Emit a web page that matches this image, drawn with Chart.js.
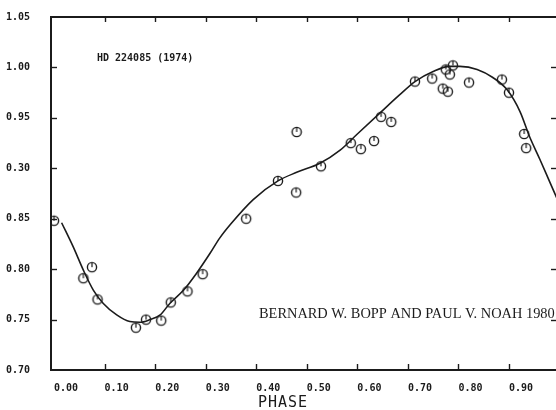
<!DOCTYPE html>
<html>
<head>
<meta charset="utf-8">
<title>HD 224085 light curve</title>
<script src="https://cdn.jsdelivr.net/npm/chart.js@4.4.1/dist/chart.umd.min.js"></script>
<style>
  html, body { margin: 0; padding: 0; background: #fff; }
  #wrap { width: 556px; height: 410px; }
</style>
</head>
<body>
<div id="wrap"><canvas id="lc" width="556" height="410"></canvas></div>
<script>
// observed points (phase, relative flux)
const obsPhase = [0.000, 0.058, 0.075, 0.086, 0.162, 0.182, 0.212, 0.231, 0.264, 0.294,
                  0.380, 0.443, 0.480, 0.479, 0.528, 0.587, 0.607, 0.633, 0.647, 0.667,
                  0.714, 0.748, 0.769, 0.779, 0.775, 0.789, 0.783, 0.821, 0.886, 0.900,
                  0.930, 0.934];
const obsFlux  = [0.848, 0.791, 0.802, 0.770, 0.742, 0.750, 0.749, 0.767, 0.778, 0.795,
                  0.850, 0.8875, 0.936, 0.876, 0.902, 0.925, 0.919, 0.927, 0.951, 0.946,
                  0.986, 0.989, 0.979, 0.976, 0.998, 1.002, 0.993, 0.985, 0.988, 0.975,
                  0.934, 0.920];

// hand-drawn fit through the points
const fitPhase = [0.015, 0.038, 0.058, 0.078, 0.0975, 0.124, 0.150, 0.170, 0.190, 0.210,
                  0.229, 0.256, 0.282, 0.309, 0.328, 0.350, 0.394, 0.443, 0.480, 0.526,
                  0.566, 0.600, 0.645, 0.684, 0.714, 0.750, 0.783, 0.803, 0.837, 0.868,
                  0.896, 0.922, 0.941, 0.961, 0.981, 0.995];
const fitFlux  = [0.846, 0.822, 0.799, 0.779, 0.766, 0.7546, 0.748, 0.7473, 0.750, 0.7546,
                  0.766, 0.779, 0.796, 0.816, 0.831, 0.845, 0.869, 0.8875, 0.896, 0.905,
                  0.918, 0.934, 0.955, 0.973, 0.986, 0.996, 1.001, 1.001, 0.998, 0.990,
                  0.978, 0.956, 0.931, 0.909, 0.886, 0.870];

// axis ticks
const phaseTicks  = [0, 0.1, 0.2, 0.3, 0.4, 0.5, 0.6, 0.7, 0.8, 0.9];
const phaseLabels = ['0.00', '0.10', '0.20', '0.30', '0.40', '0.50', '0.60', '0.70', '0.80', '0.90'];
const fluxTicks   = [0.70, 0.75, 0.80, 0.85, 0.90, 0.95, 1.00, 1.05];
const fluxLabels  = ['0.70', '0.75', '0.80', '0.85', '0.30', '0.95', '1.00', '1.05'];

const ink = '#1b1b1b';
const monoFont = 'DejaVu Sans Mono';

// open circle with a little stroke inside, like the plotter symbol
function makeMarker() {
  const c = document.createElement('canvas');
  c.width = 14; c.height = 14;
  const g = c.getContext('2d');
  g.strokeStyle = ink;
  g.lineWidth = 1.4;
  g.beginPath(); g.arc(7, 7, 4.6, 0, Math.PI * 2); g.stroke();
  g.lineWidth = 1.2;
  g.beginPath(); g.moveTo(7, 3); g.lineTo(7, 7); g.stroke();
  return c;
}

const frame = {
  id: 'frame',
  afterDraw(chart) {
    const { ctx, chartArea: a, scales: { x, y } } = chart;
    ctx.save();
    ctx.strokeStyle = ink;
    ctx.lineWidth = 2;
    ctx.beginPath(); ctx.moveTo(a.left, a.top); ctx.lineTo(a.right, a.top); ctx.stroke();

    ctx.lineWidth = 1.4;
    phaseTicks.forEach(v => {
      if (v <= 0) return;
      const px = Math.round(x.getPixelForValue(v)) + 0.5;
      ctx.beginPath(); ctx.moveTo(px, a.bottom); ctx.lineTo(px, a.bottom - 6); ctx.stroke();
      ctx.beginPath(); ctx.moveTo(px, a.top); ctx.lineTo(px, a.top + 5); ctx.stroke();
    });
    fluxTicks.forEach(v => {
      if (v <= 0.70 || v >= 1.05) return;
      const py = Math.round(y.getPixelForValue(v)) + 0.5;
      ctx.beginPath(); ctx.moveTo(a.left, py); ctx.lineTo(a.left + 6, py); ctx.stroke();
      ctx.beginPath(); ctx.moveTo(a.right, py); ctx.lineTo(a.right - 5, py); ctx.stroke();
    });

    ctx.fillStyle = ink;
    ctx.textBaseline = 'middle';
    ctx.textAlign = 'left';
    ctx.font = 'bold 10px "' + monoFont + '"';
    ctx.fillText('HD 224085 (1974)', 97, 58);

    // credit line, squeezed to its slot
    const credit = 'BERNARD W. BOPP AND PAUL V. NOAH 1980';
    ctx.textBaseline = 'alphabetic';
    ctx.font = '15px "Liberation Serif"';
    const w = ctx.measureText(credit).width;
    const size = 15 * 296 / w;
    ctx.font = size.toFixed(2) + 'px "Liberation Serif"';
    ctx.fillText(credit, 259, 318);

    ctx.textAlign = 'center';
    ctx.font = '15px "' + monoFont + '"';
    ctx.letterSpacing = '1px';
    ctx.fillText('PHASE', 283, 407);
    ctx.restore();
  }
};

const tickFont = { family: monoFont, size: 10, weight: 'bold' };

new Chart(document.getElementById('lc'), {
  data: {
    datasets: [
      {
        type: 'line',
        data: fitPhase.map((p, i) => ({ x: p, y: fitFlux[i] })),
        borderColor: ink,
        borderWidth: 1.6,
        pointRadius: 0,
        fill: false,
        cubicInterpolationMode: 'monotone'
      },
      {
        type: 'scatter',
        data: obsPhase.map((p, i) => ({ x: p, y: obsFlux[i] })),
        pointStyle: makeMarker(),
        pointRadius: 6
      }
    ]
  },
  options: {
    responsive: false,
    animation: false,
    devicePixelRatio: 1,
    layout: { autoPadding: false, padding: { top: 17, right: 0, bottom: 0, left: 0 } },
    plugins: { legend: { display: false }, tooltip: { enabled: false } },
    scales: {
      x: {
        type: 'linear',
        min: -0.006,
        max: 0.993,
        grid: { display: false },
        border: { display: true, color: ink, width: 2 },
        ticks: {
          align: 'start',
          padding: 4,
          color: ink,
          font: tickFont,
          autoSkip: false,
          maxRotation: 0,
          callback: (v, i) => phaseLabels[i]
        },
        afterBuildTicks: s => { s.ticks = phaseTicks.map(v => ({ value: v })); },
        afterFit: s => { s.height = 40; s.paddingLeft = 0; s.paddingRight = 0; }
      },
      y: {
        type: 'linear',
        min: 0.70,
        max: 1.05,
        grid: { display: false },
        border: { display: true, color: ink, width: 2 },
        ticks: {
          padding: 13,
          color: ink,
          font: tickFont,
          autoSkip: false,
          callback: (v, i) => fluxLabels[i]
        },
        afterBuildTicks: s => { s.ticks = fluxTicks.map(v => ({ value: v })); },
        afterFit: s => { s.width = 51; s.paddingTop = 0; s.paddingBottom = 0; }
      }
    }
  },
  plugins: [frame]
});
</script>
</body>
</html>
